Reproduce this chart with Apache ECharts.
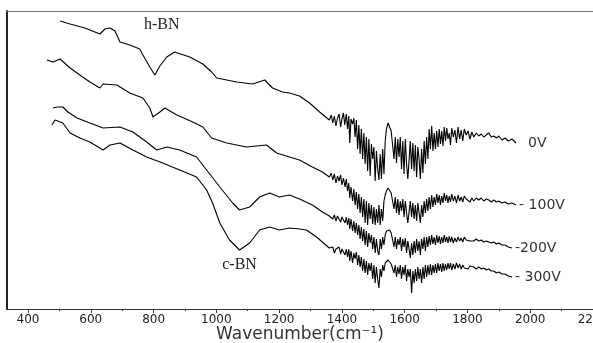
<!DOCTYPE html>
<html>
<head>
<meta charset="utf-8">
<script src="https://cdn.jsdelivr.net/npm/echarts@6/dist/echarts.min.js"></script>
<style>
html,body{margin:0;padding:0;background:#fff}
#ftir{width:593px;height:343px}
</style>
</head>
<body>
<div id="ftir"></div>
<script>
// wavenumber ticks
var majorTicks = [400,600,800,1000,1200,1400,1600,1800,2000,2200]
var minorTicks = [500,700,900,1100,1300,1500,1700,1900,2100]

// bias voltages and the text printed at the end of each trace
var voltages = ['0V','100V','200V','300V']
var endTexts = ['0V','- 100V','-200V','- 300V']

// peak annotations [wavenumber, transmittance(a.u.), text]
var notes = [[826,284,'h-BN'],[1074,44,'c-BN']]

// spectra: [wavenumber (cm-1), transmittance (a.u., offset)]
var spec0 = [[502,288],[534,285],[581,281],[629,275],[645,280],[661,281],[677,278],[693,267],[724,264],[756,260],
	[766,254],[788,242],[804,234],[820,243],[842,252],[867,257],[915,252],[957,245],[985,237],[1001,231],
	[1065,227],[1116,225],[1154,229],[1179,221],[1211,217],[1233,216],[1265,213],[1297,206],[1329,197],
	[1360,189],[1366,194],[1371,186],[1376,193],[1381,183],[1386,191],[1391,195],[1396,182],[1400,190],[1405,196],
	[1409,184],[1414,195],[1418,180],[1422,193],[1425,166],[1429,190],[1434,185],[1438,191],[1442,172],[1446,189],
	[1450,160],[1454,184],[1458,155],[1462,180],[1466,150],[1470,176],[1474,145],[1478,172],[1482,138],[1486,170],
	[1490,133],[1494,165],[1498,150],[1502,162],[1506,128],[1510,158],[1514,140],[1518,129],[1522,155],[1526,130],
	[1530,160],[1534,135],[1538,168],[1542,180],[1547,186],[1552,184],[1557,178],[1562,176],[1566,150],[1570,172],
	[1574,146],[1578,170],[1582,152],[1586,172],[1590,140],[1594,168],[1598,135],[1602,170],[1606,145],[1610,130],
	[1614,129],[1618,168],[1622,140],[1626,166],[1630,138],[1634,164],[1638,132],[1642,162],[1646,150],[1650,130],
	[1654,160],[1658,136],[1662,168],[1666,145],[1670,172],[1674,150],[1678,180],[1682,160],[1686,183],[1690,158],
	[1694,176],[1698,160],[1702,178],[1706,162],[1710,180],[1714,165],[1718,178],[1722,163],[1726,182],[1730,168],
	[1734,181],[1738,170],[1742,176],[1746,164],[1750,181],[1755,172],[1760,179],[1765,166],[1770,182],[1775,170],
	[1780,179],[1785,168],[1790,180],[1796,174],[1802,178],[1808,170],[1814,177],[1820,172],[1828,176],[1836,173],
	[1844,175],[1852,172],[1860,174],[1868,176],[1876,172],[1884,173],[1892,171],[1900,173],[1910,169],[1920,171],
	[1930,168],[1942,170],[1955,166]]

var spec100 = [[460,249],[480,247],[502,250],[534,241],[565,234],[597,227],[629,221],[639,225],[683,224],[724,216],
	[766,211],[788,201],[798,192],[820,197],[836,201],[874,194],[925,187],[957,182],[985,171],[1033,166],
	[1096,162],[1160,164],[1192,156],[1233,152],[1265,149],[1306,142],[1338,137],
	[1360,132],[1366,136],[1371,129],[1376,135],[1381,126],[1386,133],[1391,128],[1396,134],[1400,124],[1405,131],
	[1410,122],[1414,130],[1418,118],[1422,126],[1425,111],[1429,122],[1434,108],[1438,120],[1442,104],[1446,117],
	[1450,100],[1454,115],[1458,96],[1462,112],[1466,92],[1470,110],[1474,86],[1478,108],[1482,84],[1486,106],
	[1490,90],[1494,104],[1498,85],[1502,102],[1506,84],[1510,100],[1514,86],[1518,104],[1522,84],[1526,100],
	[1530,88],[1534,108],[1538,114],[1542,118],[1547,121],[1552,119],[1557,116],[1562,114],[1566,100],[1570,112],
	[1574,96],[1578,110],[1582,94],[1586,108],[1590,98],[1594,110],[1598,92],[1602,108],[1606,96],[1610,86],
	[1614,84],[1618,108],[1622,92],[1626,106],[1630,90],[1634,104],[1638,88],[1642,106],[1646,96],[1650,86],
	[1654,104],[1658,92],[1662,108],[1666,96],[1670,110],[1674,98],[1678,112],[1682,100],[1686,114],[1690,102],
	[1694,112],[1698,104],[1702,115],[1706,106],[1710,114],[1714,104],[1718,113],[1722,106],[1726,116],[1730,108],
	[1734,114],[1738,106],[1742,113],[1746,107],[1750,115],[1755,108],[1760,113],[1765,106],[1770,114],[1775,108],
	[1780,112],[1785,107],[1790,113],[1796,110],[1802,112],[1808,107],[1814,111],[1820,108],[1828,111],[1836,109],
	[1844,111],[1852,108],[1860,110],[1868,109],[1876,107],[1884,109],[1892,107],[1900,108],[1910,106],[1920,107],
	[1930,105],[1942,106],[1955,104]]

var spec200 = [[480,201],[492,202],[511,202],[527,197],[556,191],[597,186],[639,181],[693,182],[734,177],[778,167],
	[810,159],[842,162],[883,159],[937,152],[969,139],[1011,122],[1052,106],[1074,99],[1106,102],[1138,112],
	[1170,116],[1201,112],[1233,114],[1265,110],[1306,104],[1338,97],
	[1360,93],[1366,95],[1371,90],[1376,94],[1381,88],[1386,93],[1391,95],[1396,87],[1400,92],[1405,94],
	[1410,86],[1414,92],[1418,84],[1422,91],[1425,80],[1429,90],[1434,78],[1438,88],[1442,76],[1446,86],
	[1450,74],[1454,84],[1458,70],[1462,82],[1466,68],[1470,80],[1474,64],[1478,78],[1482,62],[1486,76],
	[1490,66],[1494,74],[1498,60],[1502,72],[1506,56],[1510,70],[1514,58],[1518,54],[1522,70],[1526,60],
	[1530,72],[1534,64],[1538,74],[1542,78],[1547,80],[1552,79],[1557,76],[1562,74],[1566,62],[1570,72],
	[1574,60],[1578,70],[1582,64],[1586,72],[1590,58],[1594,70],[1598,62],[1602,71],[1606,56],[1610,68],
	[1614,60],[1618,51],[1622,66],[1626,54],[1630,68],[1634,56],[1638,70],[1642,58],[1646,68],[1650,54],
	[1654,70],[1658,60],[1662,72],[1666,58],[1670,72],[1674,62],[1678,73],[1682,64],[1686,74],[1690,65],
	[1694,72],[1698,64],[1702,74],[1706,66],[1710,73],[1714,65],[1718,72],[1722,66],[1726,74],[1730,67],
	[1734,72],[1738,66],[1742,73],[1746,67],[1750,72],[1755,66],[1760,71],[1765,67],[1770,72],[1775,68],
	[1780,71],[1785,67],[1790,72],[1796,69],[1802,71],[1808,68],[1814,70],[1820,68],[1828,70],[1836,68],
	[1844,69],[1852,67],[1860,68],[1868,67],[1876,66],[1884,67],[1892,65],[1900,66],[1910,64],[1920,64],
	[1930,62],[1942,61]]

var spec300 = [[476,184],[486,189],[511,186],[534,176],[565,171],[597,167],[639,159],[661,164],[693,166],[734,159],
	[778,152],[829,146],[883,139],[937,132],[969,119],[988,106],[1011,86],[1042,69],[1074,59],[1106,66],
	[1138,79],[1170,82],[1201,79],[1233,81],[1265,80],[1287,79],[1319,72],
	[1360,61],[1366,59],[1371,62],[1376,56],[1381,60],[1386,58],[1391,62],[1396,55],[1400,60],[1405,62],
	[1410,54],[1414,60],[1418,52],[1422,60],[1425,48],[1429,58],[1434,46],[1438,56],[1442,50],[1446,57],
	[1450,44],[1454,54],[1458,42],[1462,52],[1466,38],[1470,50],[1474,36],[1478,48],[1482,34],[1486,46],
	[1490,38],[1494,46],[1498,30],[1502,44],[1506,26],[1510,42],[1514,30],[1518,21],[1522,40],[1526,32],
	[1530,44],[1534,38],[1538,46],[1542,48],[1547,49],[1552,47],[1557,45],[1562,44],[1566,36],[1570,44],
	[1574,32],[1578,42],[1582,35],[1586,44],[1590,30],[1594,42],[1598,34],[1602,44],[1606,28],[1610,40],
	[1614,32],[1618,40],[1622,16],[1626,38],[1630,26],[1634,40],[1638,28],[1642,42],[1646,30],[1650,40],
	[1654,26],[1658,42],[1662,30],[1666,44],[1670,32],[1674,44],[1678,34],[1682,45],[1686,34],[1690,44],
	[1694,36],[1698,45],[1702,36],[1706,46],[1710,38],[1714,45],[1718,37],[1722,46],[1726,38],[1730,45],
	[1734,39],[1738,46],[1742,40],[1746,46],[1750,39],[1755,45],[1760,40],[1765,46],[1770,41],[1775,45],
	[1780,40],[1785,44],[1790,41],[1796,43],[1802,40],[1808,43],[1814,41],[1820,42],[1828,40],[1836,42],
	[1844,40],[1852,41],[1860,39],[1868,40],[1876,38],[1884,38],[1892,36],[1900,37],[1910,35],[1920,35],
	[1930,33],[1942,32]]

var spectra = [spec0, spec100, spec200, spec300]

function mainChart(){
	var chart = echarts.init(document.querySelector('#ftir'))

	var series = spectra.map(function(d, i){
		var s = {
			name: voltages[i],
			type: 'line',
			data: d,
			symbol: 'none',
			lineStyle: { color: '#000', width: 1.1 },
			endLabel: {
				show: true,
				formatter: endTexts[i],
				distance: i == 0 ? 12 : 3,
				fontFamily: 'DejaVu Sans',
				fontSize: 14,
				color: '#333'
			}
		}
		return s
	})

	// h-BN / c-BN text
	series[0].markPoint = {
		symbolSize: 0,
		silent: true,
		label: {
			show: true,
			position: 'inside',
			fontFamily: 'Liberation Serif',
			fontSize: 16,
			color: '#222',
			formatter: function(p){ return p.name }
		},
		data: notes.map(function(n){ return { name: n[2], coord: [n[0], n[1]] } })
	}

	var option = {
		animation: false,
		backgroundColor: '#fff',
		grid: { left: 7, right: 0, top: 11, bottom: 34, outerBoundsMode: 'none', containLabel: false },
		xAxis: [
			{
				type: 'value', position: 'bottom', min: 333, max: 2200,
				name: 'Wavenumber(cm\u207B\u00B9)',
				nameLocation: 'middle', nameGap: 17, nameMoveOverlap: false,
				nameTextStyle: { fontFamily: 'DejaVu Sans', fontSize: 17, color: '#333', verticalAlign: 'top' },
				axisLine: { lineStyle: { color: '#333', width: 1 } },
				axisTick: { customValues: majorTicks, length: 4, lineStyle: { color: '#333' } },
				axisLabel: {
					customValues: majorTicks, margin: 5, fontFamily: 'DejaVu Sans', fontSize: 12, color: '#222',
					alignMinLabel: 'center', alignMaxLabel: 'center',
					formatter: function(v){ return String(v) }
				},
				splitLine: { show: false }
			},
			{
				type: 'value', position: 'bottom', min: 333, max: 2200,
				axisLine: { show: false },
				axisTick: { customValues: minorTicks, length: 2, lineStyle: { color: '#333' } },
				axisLabel: { show: false },
				splitLine: { show: false }
			},
			{
				type: 'value', position: 'top', min: 333, max: 2200,
				axisLine: { lineStyle: { color: '#777', width: 1 } },
				axisTick: { show: false },
				axisLabel: { show: false },
				splitLine: { show: false }
			}
		],
		yAxis: {
			type: 'value', min: 0, max: 298,
			axisLine: { show: true, lineStyle: { color: '#222', width: 2 } },
			axisTick: { show: false },
			axisLabel: { show: false },
			splitLine: { show: false }
		},
		series: series
	}

	chart.setOption(option)
}

mainChart()
</script>
</body>
</html>
